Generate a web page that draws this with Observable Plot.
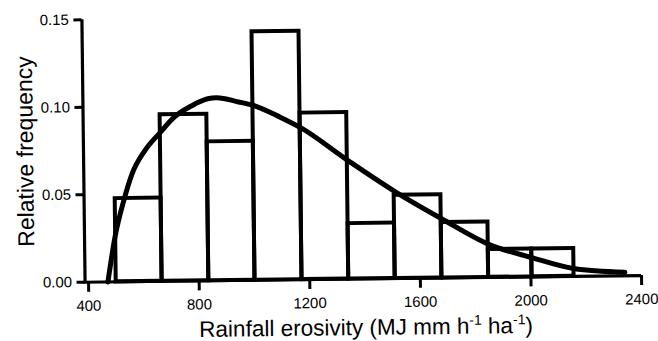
<!DOCTYPE html>
<html><head><meta charset="utf-8">
<script src="https://cdn.jsdelivr.net/npm/d3@7"></script>
<script src="https://cdn.jsdelivr.net/npm/@observablehq/plot@0.6"></script>
<style>
body{margin:0;background:#fff;}
#chart svg{display:block;transform:rotate(-0.69deg);transform-origin:361px 150px;}
#chart svg g[aria-label="y-axis tick label"] text,
#chart svg g[aria-label="x-axis tick label"] text{font-size:15px;}
</style></head><body><div id="chart"></div>
<script>
// Histogram bins (rainfall erosivity, MJ mm h-1 ha-1)
const binStart = [500, 666, 835, 1002, 1172, 1341, 1509, 1678, 1847, 2004];
const binEnd   = [666, 835, 1002, 1172, 1341, 1509, 1678, 1847, 2004, 2156];
const relFreq  = [0.0476, 0.0952, 0.0794, 0.1420, 0.0952, 0.0317, 0.0476, 0.0317, 0.0159, 0.0159];

// Fitted distribution curve
const curveX = [470, 498, 532, 562, 610, 665, 719, 779, 839, 871, 950, 1002, 1100, 1172, 1341, 1509, 1678, 1847, 2004, 2155, 2340];
const curveY = [0, 0.026, 0.047, 0.0616, 0.075, 0.085, 0.094, 0.100, 0.104, 0.1045, 0.102, 0.100, 0.093, 0.087, 0.068, 0.050, 0.034, 0.019, 0.011, 0.0045, 0.002];

// Axis ticks
const xTicks = [400, 800, 1200, 1600, 2000, 2400];
const yTicks = [0, 0.05, 0.10, 0.15];

const bars = binStart.map((x1, i) => ({x1, x2: binEnd[i], y: relFreq[i]}));
const curve = curveX.map((x, i) => ({x, y: curveY[i]}));

const chart = Plot.plot({
  width: 658, height: 341,
  marginLeft: 86.5, marginRight: 18.5, marginTop: 16, marginBottom: 62.6,
  style: {fontFamily: "'Liberation Sans', Arial, sans-serif", fontSize: "15px", color: "#000", background: "#fff", overflow: "visible"},
  x: {domain: [400, 2400], label: null},
  y: {domain: [0, 0.15], label: null},
  marks: [
    Plot.rectY(bars, {x1: "x1", x2: "x2", y: "y", fill: "none", stroke: "#000", strokeWidth: 4, strokeLinejoin: "miter"}),
    Plot.ruleX([400], {y1: 0, y2: 0.15, dx: -3.5, stroke: "#000", strokeWidth: 3.2}),
    Plot.ruleY([0], {insetLeft: -5, stroke: "#000", strokeWidth: 3.2}),
    Plot.axisY({ticks: yTicks, tickFormat: d3.format(".2f"), tickSize: 8, tickPadding: 5, dx: -3.5, strokeWidth: 3, label: null, fontSize: 15}),
    Plot.axisX({ticks: xTicks, tickFormat: d3.format("d"), tickSize: 10, tickPadding: 8, strokeWidth: 3, label: null, fontSize: 15}),
    Plot.line(curve, {x: "x", y: "y", stroke: "#000", strokeWidth: 5, curve: "monotone-x"})
  ]
});

const svg = d3.select(chart);
const xl = svg.append("text")
  .attr("x", 364).attr("y", 335)
  .attr("text-anchor", "middle")
  .attr("font-size", 22.5)
  .attr("fill", "#000");
xl.append("tspan").text("Rainfall erosivity (MJ mm h");
xl.append("tspan").attr("font-size", 14).attr("dy", -9).text("-1");
xl.append("tspan").attr("dy", 9).text(" ha");
xl.append("tspan").attr("font-size", 14).attr("dy", -9).text("-1");
xl.append("tspan").attr("dy", 9).text(")");

svg.append("text")
  .attr("transform", "translate(33,147.5) rotate(-90)")
  .attr("text-anchor", "middle")
  .attr("font-size", 23)
  .attr("fill", "#000")
  .text("Relative frequency");

document.getElementById("chart").appendChild(chart);
</script></body></html>
